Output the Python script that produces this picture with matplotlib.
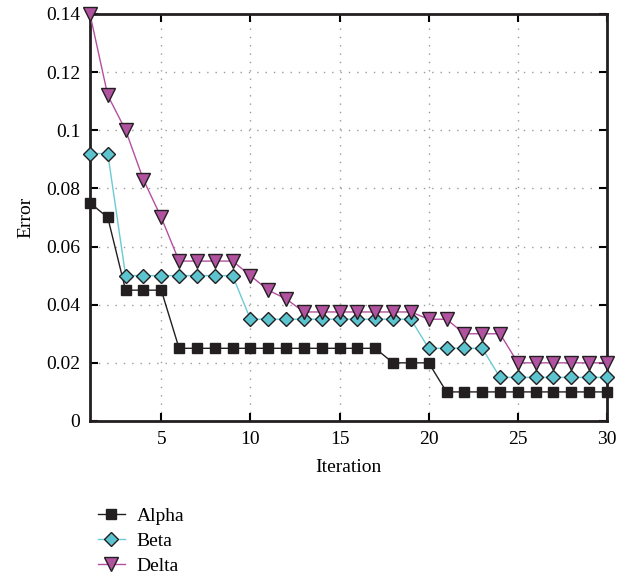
import matplotlib.pyplot as plt
import numpy as np
from matplotlib.ticker import FuncFormatter

plt.rcParams['font.family'] = ['Liberation Serif', 'DejaVu Serif']

iterations = list(range(1, 31))
alpha = [0.075, 0.070, 0.045, 0.045, 0.045] + [0.025] * 12 + [0.020] * 3 + [0.010] * 10
beta = [0.092, 0.092] + [0.050] * 7 + [0.035] * 10 + [0.025] * 4 + [0.015] * 7
delta = [0.140, 0.112, 0.100, 0.083, 0.070, 0.055, 0.055, 0.055, 0.055, 0.050,
         0.045, 0.042] + [0.0375] * 7 + [0.035] * 2 + [0.030] * 3 + [0.020] * 6

fig = plt.figure(figsize=(6.29, 5.81), dpi=100)
ax = fig.add_axes([0.143, 0.2754, 0.822, 0.7006])

ax.plot(iterations, alpha, color='#231f20', lw=1.0, marker='s', ms=7.5,
        mfc='#231f20', mec='#231f20', label='Alpha', zorder=3, clip_on=False)
ax.plot(iterations, beta, color='#6ccad4', lw=1.0, marker='D', ms=7.5,
        mfc='#5cc4cf', mec='#231f20', mew=1.0, label='Beta', zorder=4, clip_on=False)
ax.plot(iterations, delta, color='#b44fa0', lw=1.0, marker='v', ms=10,
        mfc='#b0529f', mec='#231f20', mew=1.0, label='Delta', zorder=5, clip_on=False)

ax.set_xlim(1, 30)
ax.set_ylim(0, 0.14)
ax.set_xticks([5, 10, 15, 20, 25, 30])
ax.set_yticks(np.arange(0, 0.141, 0.02))
ax.yaxis.set_major_formatter(FuncFormatter(lambda v, p: '%g' % round(v, 2)))
ax.grid(True, linestyle=(0, (1, 5)), color='#999999', lw=1.0)
ax.tick_params(direction='in', top=True, right=True, length=6, width=1.5,
               labelsize=14, pad=7)
for s in ax.spines.values():
    s.set_linewidth(2)
    s.set_color('#231f20')

ax.set_xlabel('Iteration', fontsize=14, labelpad=8)
ax.set_ylabel('Error', fontsize=14, labelpad=8)

fig.legend(loc='upper left', bbox_to_anchor=(0.143, 0.14), frameon=False,
           fontsize=14, handlelength=1.4, handletextpad=0.6, labelspacing=0.38,
           borderaxespad=0)

fig.savefig('out.png', dpi=100)
